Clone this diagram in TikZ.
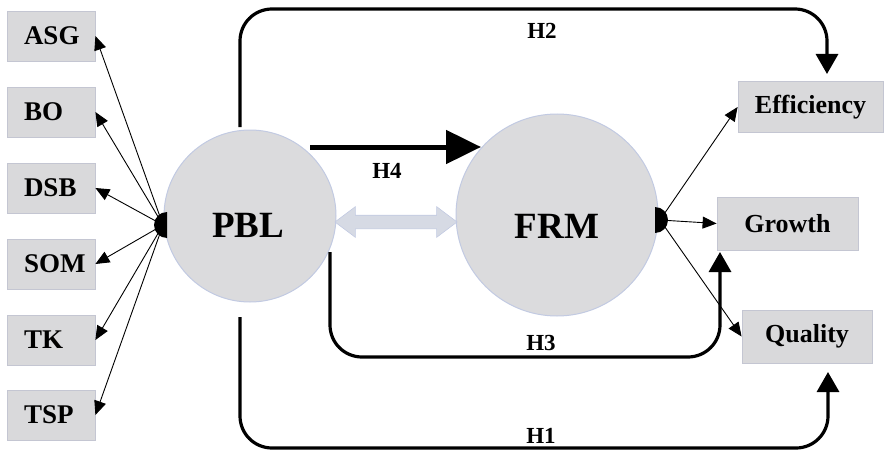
\documentclass[tikz,border=0pt]{standalone}
\usepackage{fontspec}
\setmainfont{Liberation Serif}
\usetikzlibrary{arrows.meta,shapes.arrows}
\definecolor{boxfill}{RGB}{217,217,219}
\definecolor{boxedge}{RGB}{196,198,210}
\definecolor{circfill}{RGB}{219,219,221}
\definecolor{circedge}{RGB}{194,202,226}
\definecolor{dblfill}{RGB}{214,218,228}
\begin{document}
\begin{tikzpicture}[x=1pt,y=-1pt,
  indbox/.style={draw=boxedge, line width=0.8pt, fill=boxfill, minimum height=50pt,
    inner xsep=17pt, inner ysep=0pt, text width=54pt, align=left,
    font=\fontsize{27}{30}\selectfont\bfseries},
  outbox/.style={draw=boxedge, line width=0.8pt, fill=boxfill, minimum height=51pt,
    inner sep=0pt, font=\fontsize{26}{30}\selectfont\bfseries},
  latent/.style={circle, draw=circedge, line width=1pt, fill=circfill, inner sep=0pt},
  bigtxt/.style={font=\fontsize{37}{40}\selectfont\bfseries, inner sep=0pt},
  htxt/.style={font=\fontsize{23}{26}\selectfont\bfseries, inner sep=0pt},
  thinarr/.style={line width=0.9pt, -{Triangle[length=14pt,width=12pt]}},
  hyp/.style={line width=3.2pt, rounded corners=32pt, -{Triangle[length=20pt,width=22pt]}},
  hubfill/.style={fill=black}
]
\useasboundingbox (0,0) rectangle (884,452);

% indicator boxes (left)
\node[indbox] (ASG) at (51,36) {ASG};
\node[indbox] (BO)  at (51,112) {BO};
\node[indbox] (DSB) at (51,188) {DSB};
\node[indbox] (SOM) at (51,264) {SOM};
\node[indbox] (TK)  at (51,340) {TK};
\node[indbox] (TSP) at (51,415) {TSP};

% outcome boxes (right)
\node[outbox, minimum width=145pt] (Eff) at (810.5,107) {Efficiency};
\node[outbox, minimum width=141pt, minimum height=53pt] (Gro) at (787.5,223.5) {Growth};
\node[outbox, minimum width=130pt, minimum height=53pt] (Qua) at (807,336.5) {Quality};

% latent circles
\node[latent, minimum size=172pt] (PBL) at (250,216) {};
\node[bigtxt] (PBLt) at (248,225) {PBL};
\node[latent, minimum size=202pt] (FRM) at (557,215) {};
\node[bigtxt] (FRMt) at (557,226) {FRM};

% double arrow between latents
\node[double arrow, fill=dblfill, draw=circedge, line width=0.6pt,
      minimum height=122pt, inner xsep=0pt, inner ysep=6.5pt,
      double arrow head extend=8.5pt, double arrow tip angle=74] (dbl) at (396,222) {};

% hubs
\coordinate (lhub) at (163,225);
\coordinate (rhub) at (660,220);

% left indicator arrows
\foreach \b in {ASG,BO,DSB,SOM,TK,TSP}
  \draw[thinarr] (lhub) -- (\b.east);
\fill[hubfill] (167,212) arc[start angle=270, end angle=90, radius=13] -- cycle;

% right indicator arrows
\draw[thinarr] (rhub) -- (Eff.west);
\draw[thinarr] (rhub) -- (Gro.west);
\draw[thinarr] (rhub) -- (Qua.west);
\fill[hubfill] (655,207) arc[start angle=270, end angle=450, radius=13] -- cycle;

% hypothesis paths
\coordinate (h2s) at (240,127);
\coordinate (h2e) at (827,74);
\coordinate (h1s) at (240,317);
\coordinate (h1e) at (828,372);
\coordinate (h3s) at (330,252);
\coordinate (h3e) at (720,252);
\coordinate (h4s) at (310,147);
\coordinate (h4e) at (481,147);

\draw[hyp] (h2s) |- (827,9) -- (h2e);
\draw[hyp] (h1s) |- (828,448) -- (h1e);
\draw[hyp] (h3s) |- (720,357) -- (h3e);
\draw[line width=5pt, -{Triangle[length=35pt,width=33pt]}] (h4s) -- (h4e);

% hypothesis labels
\node[htxt] (H2) at (542,31) {H2};
\node[htxt] (H4) at (387,171) {H4};
\node[htxt] (H3) at (541,343) {H3};
\node[htxt] (H1) at (541,436) {H1};
\end{tikzpicture}
\end{document}
